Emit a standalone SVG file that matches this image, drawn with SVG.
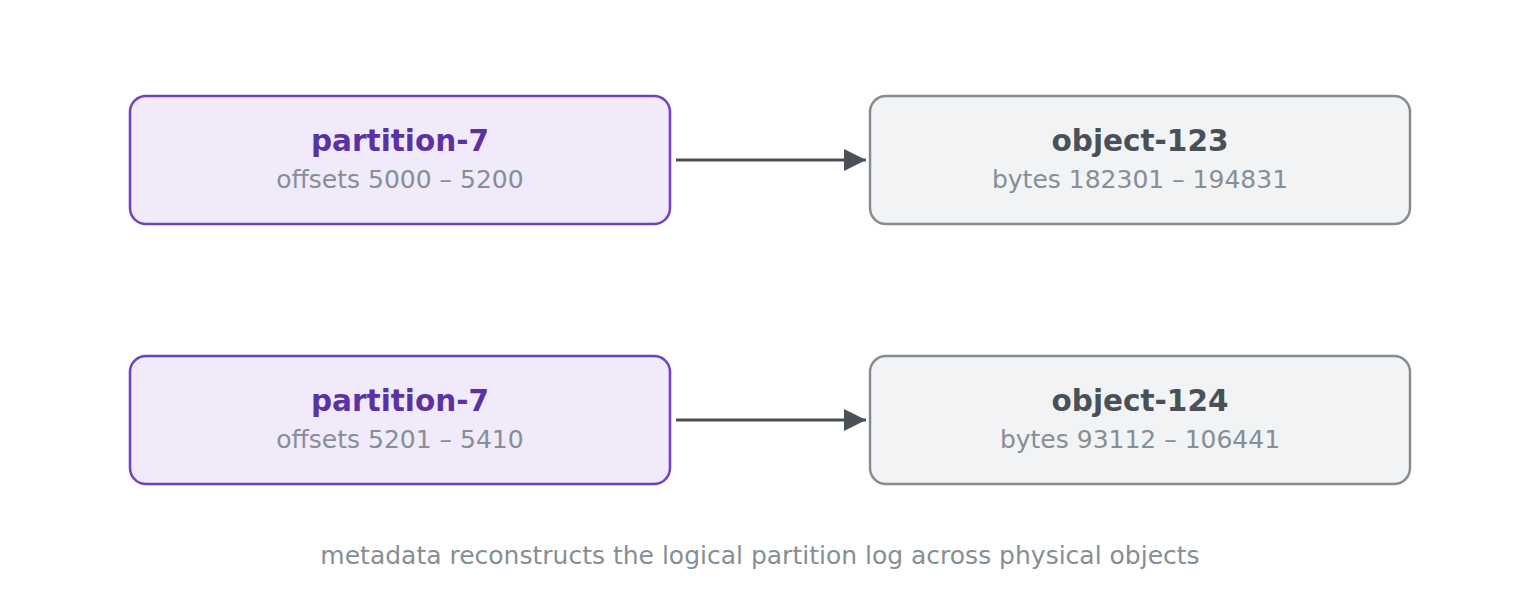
<svg xmlns="http://www.w3.org/2000/svg" width="1520" height="600" viewBox="0 0 1520 600">
<style>
.p{fill:#f1eafa;stroke:#6f42c1;stroke-width:2.5}
.o{fill:#f1f3f4;stroke:#868c92;stroke-width:2.5}
text{font-family:"DejaVu Sans",sans-serif;text-anchor:middle}
.tp{font-size:29.5px;font-weight:bold;fill:#5a32a3}
.to{font-size:29.5px;font-weight:bold;fill:#495057}
.s{font-size:25px;fill:#868e96}
.c{stroke:#495057;stroke-width:3;fill:none}
</style>
<defs><marker id="m" viewBox="0 0 22 22" refX="22" refY="11" markerWidth="22" markerHeight="22" markerUnits="userSpaceOnUse" orient="auto"><path d="M0,0L22,11L0,22z" fill="#495057"/></marker></defs>
<g id="p1"><rect class="p" x="130" y="96" width="540" height="128" rx="16"/><text class="tp" x="400" y="151">partition-7</text><text class="s" x="400" y="188">offsets 5000 – 5200</text></g>
<g id="o1"><rect class="o" x="870" y="96" width="540" height="128" rx="16"/><text class="to" x="1140" y="151">object-123</text><text class="s" x="1140" y="188">bytes 182301 – 194831</text></g>
<g id="p2"><rect class="p" x="130" y="356" width="540" height="128" rx="16"/><text class="tp" x="400" y="411">partition-7</text><text class="s" x="400" y="448">offsets 5201 – 5410</text></g>
<g id="o2"><rect class="o" x="870" y="356" width="540" height="128" rx="16"/><text class="to" x="1140" y="411">object-124</text><text class="s" x="1140" y="448">bytes 93112 – 106441</text></g>
<g id="connectors"><path class="c" d="M676,160H866" marker-end="url(#m)"/><path class="c" d="M676,420H866" marker-end="url(#m)"/></g>
<text class="s" x="760" y="564">metadata reconstructs the logical partition log across physical objects</text>
</svg>
